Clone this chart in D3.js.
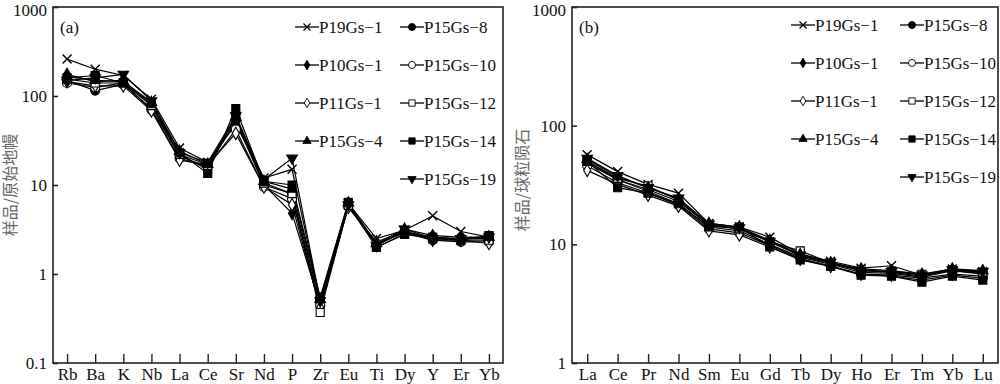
<!DOCTYPE html>
<html>
<head>
<meta charset="utf-8">
<script src="https://cdn.jsdelivr.net/npm/d3@7"></script>
<style>
  body { margin: 0; background: #fff; }
  svg { display: block; }
  text { font-family: "Liberation Serif", "Times New Roman", serif; }
</style>
</head>
<body>
<svg id="chart" width="1000" height="384"></svg>
<script>
// spider diagram (a): primitive-mantle normalised
var elementsA = ["Rb", "Ba", "K", "Nb", "La", "Ce", "Sr", "Nd", "P", "Zr", "Eu", "Ti", "Dy", "Y", "Er", "Yb"];
// REE pattern (b): chondrite normalised
var elementsB = ["La", "Ce", "Pr", "Nd", "Sm", "Eu", "Gd", "Tb", "Dy", "Ho", "Er", "Tm", "Yb", "Lu"];

var sampleNames = ["P19Gs−1", "P15Gs−8", "P10Gs−1", "P15Gs−10", "P11Gs−1", "P15Gs−12", "P15Gs−4", "P15Gs−14", "P15Gs−19"];
var markerKinds = ["cross", "circle", "diamond", "circleOpen", "diamondOpen", "squareOpen", "triangle", "square", "triangleDown"];

var valuesA = [
    [260, 200, 170, 92, 26, 18, 48, 12, 15, 0.50, 6.2, 2.5, 3.1, 4.5, 3.0, 2.6],
    [150, 115, 135, 72, 22, 17, 55, 10, 8, 0.48, 6.0, 2.1, 3.0, 2.6, 2.5, 2.5],
    [175, 145, 150, 80, 21, 16, 52, 10, 4.8, 0.45, 6.1, 2.1, 3.0, 2.5, 2.5, 2.6],
    [140, 125, 140, 70, 20, 16, 42, 9.5, 7, 0.44, 5.7, 2.2, 2.9, 2.4, 2.3, 2.3],
    [145, 130, 130, 68, 19, 17, 38, 9.5, 6, 0.42, 5.6, 2.3, 3.0, 2.4, 2.4, 2.2],
    [155, 140, 140, 78, 22, 15, 60, 10.5, 8, 0.37, 5.9, 2.0, 2.8, 2.5, 2.4, 2.4],
    [165, 150, 145, 85, 24, 17, 58, 11, 9, 0.52, 6.3, 2.2, 3.2, 2.7, 2.6, 2.6],
    [160, 170, 140, 82, 23, 13.5, 72, 11, 10, 0.55, 6.4, 2.0, 2.8, 2.6, 2.4, 2.7],
    [150, 160, 175, 88, 23, 18, 60, 11.5, 20, 0.50, 6.0, 2.1, 3.2, 2.5, 2.5, 2.6]
];

var valuesB = [
    [57, 41, 32, 27, 15, 14, 11.5, 8.3, 7.2, 6.3, 6.6, 5.5, 6.2, 5.9],
    [50, 35, 29, 23, 14.5, 13.5, 10.5, 8.0, 6.9, 6.0, 5.8, 5.4, 6.1, 5.8],
    [48, 35, 28, 22, 14, 13, 10, 7.8, 6.8, 5.8, 5.7, 5.3, 6.0, 5.7],
    [46, 33, 27, 21.5, 13.5, 12.5, 9.8, 7.6, 6.6, 5.6, 5.4, 5.0, 5.5, 5.2],
    [42, 32, 26, 21, 13, 12, 9.5, 7.5, 6.5, 5.6, 5.5, 5.2, 5.6, 5.4],
    [50, 36, 31, 23.5, 14.5, 13.5, 10.5, 8.8, 7.0, 6.1, 5.9, 5.6, 6.0, 5.6],
    [52, 37, 30, 24, 15, 14, 10.8, 8.2, 7.0, 6.2, 6.0, 5.6, 6.2, 6.0],
    [50, 30, 27, 22, 14, 14, 9.5, 7.4, 6.5, 5.5, 5.4, 4.8, 5.4, 5.0],
    [53, 38, 30, 24.5, 14.8, 13.8, 10.6, 8.1, 7.1, 6.0, 5.9, 5.5, 6.1, 5.9]
];

var ticksA = [0.1, 1, 10, 100, 1000];
var ticksB = [1, 10, 100, 1000];

var svg = d3.select("#chart");

// draw one marker at the origin of group g
function drawMarker(g, kind, s, sw) {
    var r = s / 2;
    if (kind == "cross") {
        g.append("path").attr("d", "M" + (-r) + "," + (-r) + "L" + r + "," + r + "M" + (-r) + "," + r + "L" + r + "," + (-r))
            .style("stroke", "black").style("stroke-width", sw + 0.3).style("fill", "none");
        return;
    }
    var sym, fill = "black";
    if (kind.indexOf("circle") == 0) sym = d3.symbolCircle;
    if (kind.indexOf("diamond") == 0) sym = d3.symbolDiamond;
    if (kind.indexOf("square") == 0) sym = d3.symbolSquare;
    if (kind.indexOf("triangle") == 0) sym = d3.symbolTriangle;
    if (kind.indexOf("Open") > 0) fill = "white";
    var size = s * s * 0.8;
    if (sym == d3.symbolDiamond) size = s * s * 0.55;
    if (sym == d3.symbolTriangle) size = s * s * 0.6;
    var p = g.append("path")
        .attr("d", d3.symbol().type(sym).size(size))
        .style("fill", fill)
        .style("stroke", "black")
        .style("stroke-width", sw);
    if (kind == "triangleDown") p.attr("transform", "rotate(180)");
}

function panel(opt) {
    var x = d3.scalePoint().domain(opt.elements).range([opt.left, opt.right]).padding(0.5);
    var y = d3.scaleLog().domain(opt.domain).range([opt.bottom, opt.top]);
    var g = svg.append("g");

    // frame
    g.append("rect")
        .attr("x", opt.left).attr("y", opt.top)
        .attr("width", opt.right - opt.left).attr("height", opt.bottom - opt.top)
        .style("fill", "none").style("stroke", "#222").style("stroke-width", 1.6);

    var yAxis = d3.axisLeft(y).tickValues(opt.ticks).tickSizeInner(-5).tickSizeOuter(0)
        .tickFormat(function(d) { return d < 1 ? d3.format(".1f")(d) : d3.format("d")(d); });
    var ya = g.append("g").attr("transform", "translate(" + opt.left + ",0)").call(yAxis);
    ya.select(".domain").remove();
    ya.selectAll("line").style("stroke", "#222").style("stroke-width", 1.6);
    ya.selectAll("text").attr("x", -6).style("font-size", "17px").style("fill", "#111")
        .attr("dy", function(d) { return d == 1000 ? "0.5em" : "0.32em"; });

    var xAxis = d3.axisBottom(x).tickSizeInner(-9).tickSizeOuter(0);
    var xa = g.append("g").attr("transform", "translate(0," + opt.bottom + ")").call(xAxis);
    xa.select(".domain").remove();
    xa.selectAll("line").style("stroke", "#222").style("stroke-width", 1.4);
    xa.selectAll("text").attr("y", 5).style("font-size", "17px").style("fill", "#111");

    // axis title
    g.append("text")
        .attr("transform", "translate(" + opt.titleX + "," + opt.titleY + ") rotate(-90)")
        .attr("text-anchor", "middle")
        .style("font-family", "'Noto Sans CJK SC'")
        .style("font-size", "16px")
        .style("fill", "#666")
        .text(opt.title);

    g.append("text").attr("x", opt.left + 7).attr("y", opt.top + 26)
        .style("font-size", "17px").style("fill", "#111").text(opt.tag);

    var line = d3.line()
        .x(function(d, i) { return x(opt.elements[i]); })
        .y(function(d) { return y(d); });

    opt.values.forEach(function(vals, k) {
        g.append("path").datum(vals).attr("d", line)
            .style("fill", "none").style("stroke", "black").style("stroke-width", 1.2);
    });
    opt.values.forEach(function(vals, k) {
        vals.forEach(function(v, i) {
            var m = g.append("g").attr("transform", "translate(" + x(opt.elements[i]) + "," + y(v) + ")");
            drawMarker(m, markerKinds[k], 9, 1.1);
        });
    });

    // legend
    var lg = g.append("g");
    sampleNames.forEach(function(name, k) {
        var col = k % 2, row = Math.floor(k / 2);
        if (k == 8) { col = 1; row = 4; }
        var x0 = opt.legendX[col];
        var yy = opt.legendY + row * 38;
        var item = lg.append("g").attr("transform", "translate(" + x0 + "," + yy + ")");
        item.append("line").attr("x1", 0).attr("x2", 24).attr("y1", 0).attr("y2", 0)
            .style("stroke", "black").style("stroke-width", 1.3);
        drawMarker(item.append("g").attr("transform", "translate(12,0)"), markerKinds[k], 7, 0.9);
        item.append("text").attr("x", 24).attr("y", 6)
            .style("font-size", "17px").style("fill", "#111").text(name);
    });
}

panel({
    elements: elementsA, values: valuesA, domain: [0.1, 1000], ticks: ticksA,
    left: 53, right: 503, top: 7, bottom: 363,
    title: "样品/原始地幔", titleX: 16, titleY: 185, tag: "(a)",
    legendX: [295, 400], legendY: 27
});

panel({
    elements: elementsB, values: valuesB, domain: [1, 1000], ticks: ticksB,
    left: 572, right: 998, top: 7, bottom: 363,
    title: "样品/球粒陨石", titleX: 528, titleY: 180, tag: "(b)",
    legendX: [791, 900], legendY: 25
});
</script>
</body>
</html>
